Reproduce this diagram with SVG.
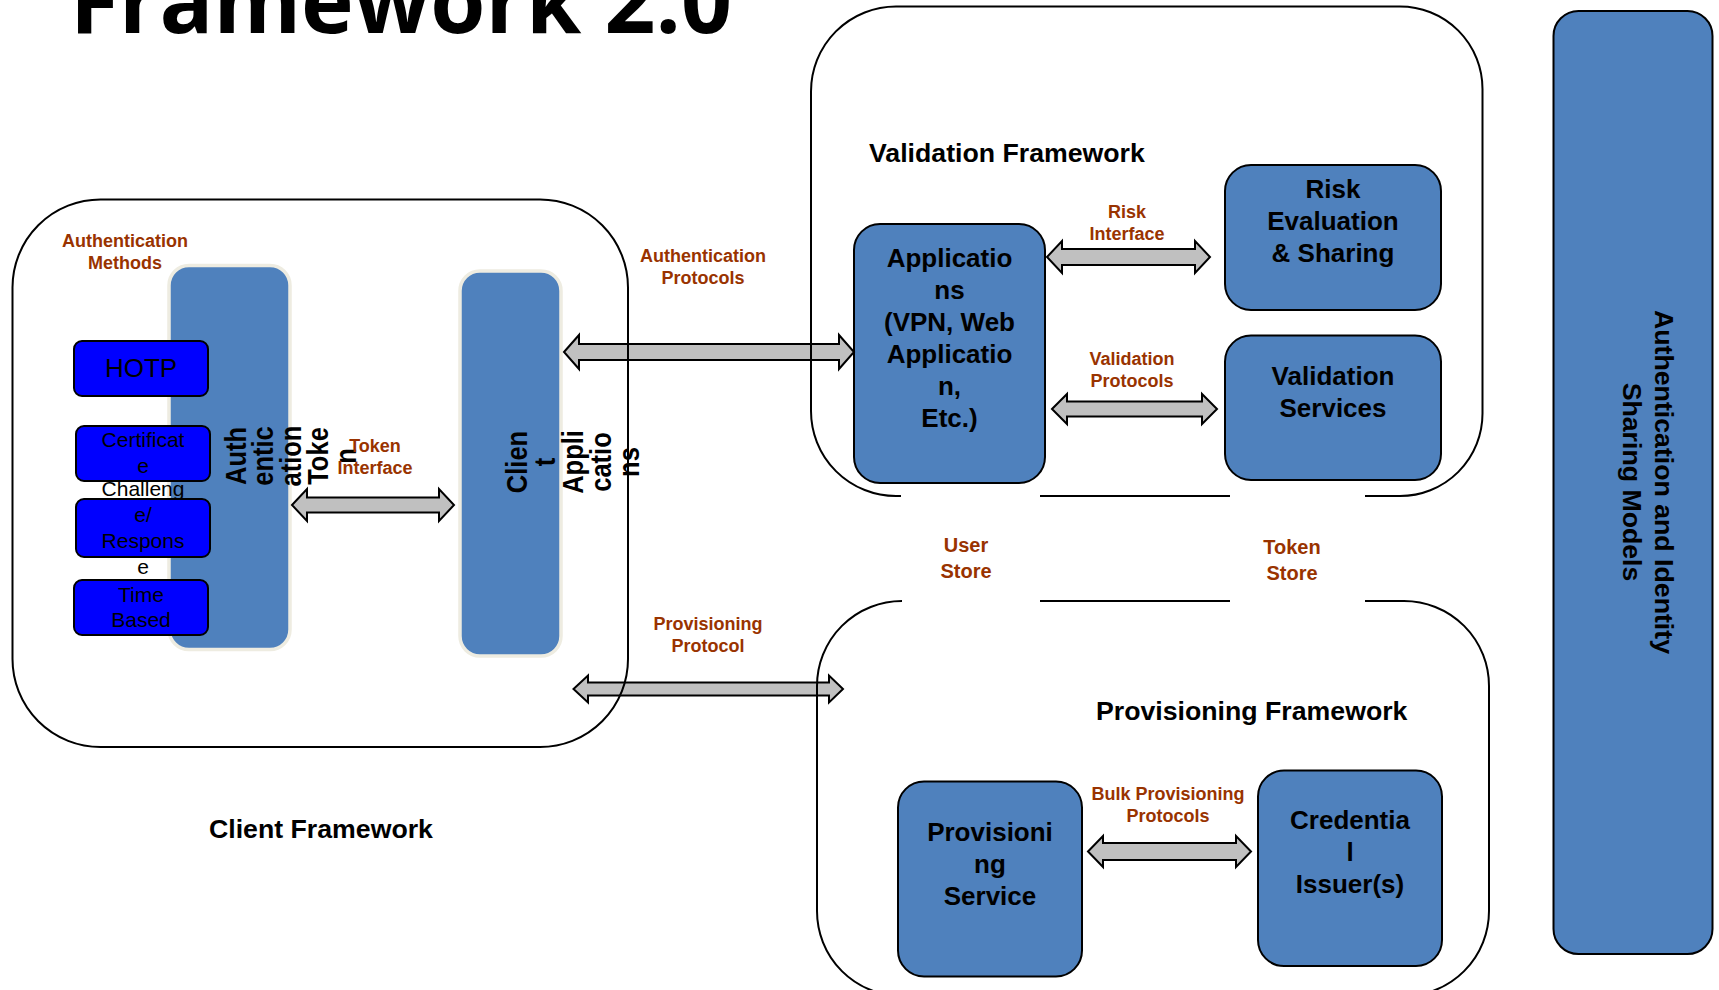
<svg xmlns="http://www.w3.org/2000/svg" width="1719" height="990" viewBox="0 0 1719 990">
  <style>
    .title { font-family: "Open Sans", "DejaVu Sans", sans-serif; font-weight: 700; font-size: 90px; fill: #000; }
    .head { font-family: "Liberation Sans", Arial, sans-serif; font-weight: bold; font-size: 26.7px; fill: #000; }
    .lbl { font-family: "Liberation Sans", Arial, sans-serif; font-weight: bold; font-size: 18px; fill: #993300; text-anchor: middle; }
    .store { font-family: "Liberation Sans", Arial, sans-serif; font-weight: bold; font-size: 20px; fill: #993300; text-anchor: middle; }
    .node-t { font-family: "Liberation Sans", Arial, sans-serif; font-weight: bold; font-size: 26px; fill: #000; text-anchor: middle; }
    .side-t { font-family: "Liberation Sans", Arial, sans-serif; font-weight: bold; font-size: 26.7px; fill: #000; text-anchor: middle; }
    .vert-t { font-family: "Liberation Sans", Arial, sans-serif; font-weight: bold; font-size: 29px; fill: #000; text-anchor: middle; }
    .meth-t { font-family: "Liberation Sans", Arial, sans-serif; font-size: 21px; fill: #000; text-anchor: middle; }
    .meth-big { font-family: "Liberation Sans", Arial, sans-serif; font-size: 26px; fill: #000; text-anchor: middle; }
    .box { fill: #4F81BD; stroke: #000; stroke-width: 2; }
    .col { fill: #4F81BD; stroke: #EEECE1; stroke-width: 3.5; }
    .meth { fill: #0000FF; stroke: #000; stroke-width: 2; }
    .frame { fill: none; stroke: #000; stroke-width: 2; }
    .arrow { fill: #C0C0C0; stroke: #000; stroke-width: 2; stroke-linejoin: miter; }
  </style>

  <rect width="1719" height="990" fill="#fff"/>

  <!-- page heading, partly above the top edge -->
  <text class="title" x="70" y="33" textLength="662" lengthAdjust="spacingAndGlyphs">Framework 2.0</text>

  <!-- client framework contents -->
  <g id="auth-token">
    <rect class="col" x="169" y="265.5" width="121" height="384" rx="20"/>
    <text class="vert-t" transform="translate(246,456) rotate(-90) scale(0.88,1)"><tspan x="0" y="0">Auth</tspan><tspan x="0" y="27.5">entic</tspan><tspan x="0" y="55">ation</tspan><tspan x="0" y="82.5">Toke</tspan><tspan x="0" y="110">n</tspan></text>
  </g>

  <g id="client-app">
    <rect class="col" x="460" y="271" width="101" height="385" rx="20"/>
    <text class="vert-t" transform="translate(527,462) rotate(-90) scale(0.88,1)"><tspan x="0" y="0">Clien</tspan><tspan x="0" y="28">t</tspan><tspan x="0" y="56">Appli</tspan><tspan x="0" y="84">catio</tspan><tspan x="0" y="112">ns</tspan></text>
  </g>

  <g id="hotp">
    <rect class="meth" x="74" y="341" width="134" height="55" rx="8"/>
    <text class="meth-big" x="141" y="377">HOTP</text>
  </g>

  <g id="certificate">
    <rect class="meth" x="76" y="426" width="134" height="55" rx="8"/>
    <text class="meth-t"><tspan x="143" y="447">Certificat</tspan><tspan x="143" y="473">e</tspan></text>
  </g>

  <g id="challenge-response">
    <rect class="meth" x="76" y="499" width="134" height="58" rx="8"/>
    <text class="meth-t"><tspan x="143" y="496">Challeng</tspan><tspan x="143" y="522">e/</tspan><tspan x="143" y="548">Respons</tspan><tspan x="143" y="574">e</tspan></text>
  </g>

  <g id="time-based">
    <rect class="meth" x="74" y="580" width="134" height="55" rx="8"/>
    <text class="meth-t"><tspan x="141" y="601.5">Time</tspan><tspan x="141" y="627">Based</tspan></text>
  </g>

  <!-- validation framework contents -->
  <g id="applications">
    <rect class="box" x="854" y="224" width="191" height="259" rx="26"/>
    <text class="node-t"><tspan x="949.5" y="266.5">Applicatio</tspan><tspan x="949.5" y="298.5">ns</tspan><tspan x="949.5" y="330.5">(VPN, Web</tspan><tspan x="949.5" y="362.5">Applicatio</tspan><tspan x="949.5" y="394.5">n,</tspan><tspan x="949.5" y="426.5">Etc.)</tspan></text>
  </g>

  <g id="risk-evaluation">
    <rect class="box" x="1225" y="165" width="216" height="145" rx="26"/>
    <text class="node-t"><tspan x="1333" y="198">Risk</tspan><tspan x="1333" y="230">Evaluation</tspan><tspan x="1333" y="262">&amp; Sharing</tspan></text>
  </g>

  <g id="validation-services">
    <rect class="box" x="1225" y="335.5" width="216" height="144.5" rx="26"/>
    <text class="node-t"><tspan x="1333" y="385">Validation</tspan><tspan x="1333" y="417">Services</tspan></text>
  </g>

  <!-- provisioning framework contents -->
  <g id="provisioning-service">
    <rect class="box" x="898" y="781.5" width="184" height="195" rx="26"/>
    <text class="node-t"><tspan x="990" y="841">Provisioni</tspan><tspan x="990" y="873">ng</tspan><tspan x="990" y="905">Service</tspan></text>
  </g>

  <g id="credential-issuer">
    <rect class="box" x="1258" y="770.5" width="184" height="195.5" rx="26"/>
    <text class="node-t"><tspan x="1350" y="829">Credentia</tspan><tspan x="1350" y="861">l</tspan><tspan x="1350" y="893">Issuer(s)</tspan></text>
  </g>

  <!-- sharing models column -->
  <g id="sharing-models">
    <rect class="box" x="1553.5" y="11" width="159" height="943" rx="25"/>
    <text class="side-t" transform="translate(1655,482) rotate(90)"><tspan x="0" y="0">Authentication and Identity</tspan><tspan x="0" y="32">Sharing Models</tspan></text>
  </g>

  <!-- double-headed block connectors -->
  <g id="connectors">
    <polygon class="arrow" points="292,505 307,489 307,497.5 439,497.5 439,489 454,505 439,521 439,512.5 307,512.5 307,521"/>
    <polygon class="arrow" points="564,352 579,335 579,344 839,344 839,335 854,352 839,369 839,360 579,360 579,369"/>
    <polygon class="arrow" points="573.5,689 588,675.5 588,682.5 829,682.5 829,675.5 843,689 829,702.5 829,695.5 588,695.5 588,702.5"/>
    <polygon class="arrow" points="1047,257 1062,241 1062,249 1195,249 1195,241 1210,257 1195,273 1195,265 1062,265 1062,273"/>
    <polygon class="arrow" points="1052,409 1067,394 1067,401.5 1202,401.5 1202,394 1217,409 1202,424 1202,416.5 1067,416.5 1067,424"/>
    <polygon class="arrow" points="1088,851.5 1103,836 1103,843 1236,843 1236,836 1251,851.5 1236,867 1236,860 1103,860 1103,867"/>
  </g>

  <!-- framework outlines, drawn over the connectors -->
  <g id="client-framework">
    <rect class="frame" x="12.5" y="199.5" width="615.5" height="547.5" rx="88"/>
    <text class="lbl"><tspan x="125" y="247">Authentication</tspan><tspan x="125" y="269">Methods</tspan></text>
    <text class="head" x="209" y="838">Client Framework</text>
  </g>

  <g id="validation-framework">
    <path class="frame" d="M 901,496 L 896,496 A 85 85 0 0 1 811,411 L 811,91.5 A 85 85 0 0 1 896,6.5 L 1400,6.5 A 82.5 82.5 0 0 1 1482.5,89 L 1482.5,413.5 A 82.5 82.5 0 0 1 1400,496 L 1365,496 M 1040,496 L 1230,496"/>
    <text class="head" x="869" y="162">Validation Framework</text>
  </g>

  <g id="provisioning-framework">
    <path class="frame" d="M 902,601 A 85 85 0 0 0 817,686 L 817,911 A 85 85 0 0 0 902,996 L 1404,996 A 85 85 0 0 0 1489,911 L 1489,686 A 85 85 0 0 0 1404,601 L 1365,601 M 1040,601 L 1230,601"/>
    <text class="head" x="1096" y="720">Provisioning Framework</text>
  </g>

  <!-- store labels between the frameworks -->
  <g id="user-store">
    <text class="store"><tspan x="966" y="552">User</tspan><tspan x="966" y="578">Store</tspan></text>
  </g>
  <g id="token-store">
    <text class="store"><tspan x="1292" y="554">Token</tspan><tspan x="1292" y="580">Store</tspan></text>
  </g>

  <!-- connector labels -->
  <g id="connector-labels">
    <text class="lbl"><tspan x="375" y="452">Token</tspan><tspan x="375" y="474">Interface</tspan></text>
    <text class="lbl"><tspan x="703" y="262">Authentication</tspan><tspan x="703" y="284">Protocols</tspan></text>
    <text class="lbl"><tspan x="708" y="630">Provisioning</tspan><tspan x="708" y="652">Protocol</tspan></text>
    <text class="lbl"><tspan x="1127" y="218">Risk</tspan><tspan x="1127" y="240">Interface</tspan></text>
    <text class="lbl"><tspan x="1132" y="365">Validation</tspan><tspan x="1132" y="387">Protocols</tspan></text>
    <text class="lbl"><tspan x="1168" y="800">Bulk Provisioning</tspan><tspan x="1168" y="822">Protocols</tspan></text>
  </g>
</svg>
